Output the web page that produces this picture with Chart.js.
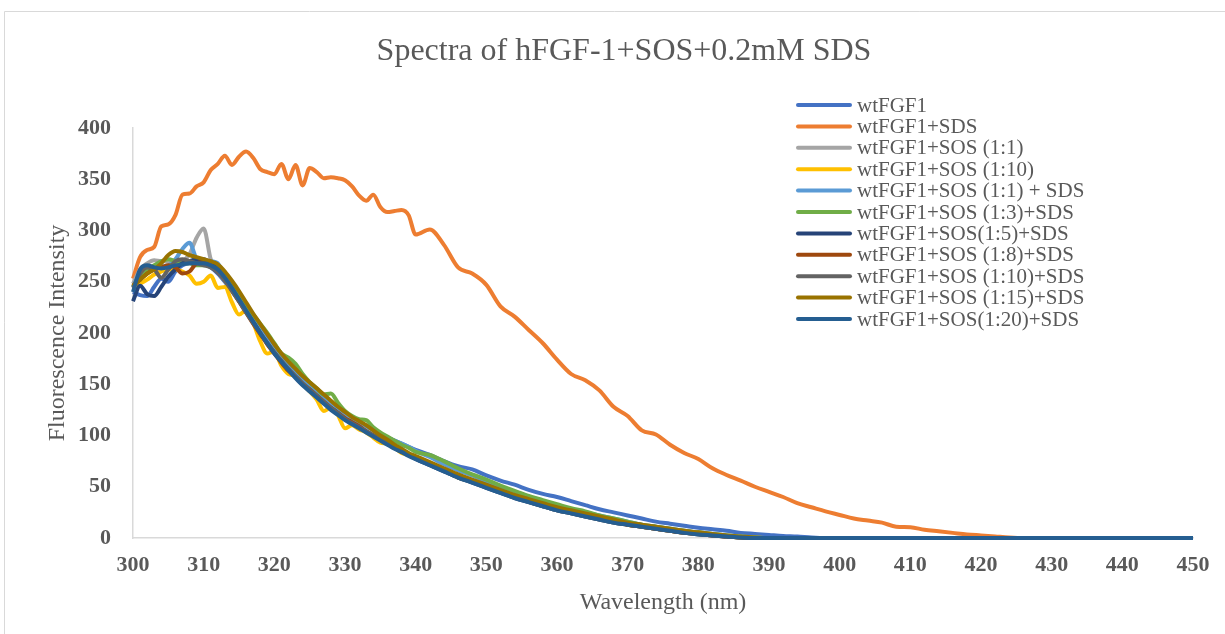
<!DOCTYPE html>
<html>
<head>
<meta charset="utf-8">
<script src="https://cdn.jsdelivr.net/npm/chart.js@4.4.1/dist/chart.umd.min.js"></script>
<style>
  html, body { margin: 0; padding: 0; background: #fff; }
  #wrap { width: 1225px; height: 634px; }
</style>
</head>
<body>
<div id="wrap"><canvas id="spectra" width="1225" height="634"></canvas></div>
<script>
// wavelength (nm): 1 nm steps to 340, 2 nm steps to 430, then the flat tail
const wavelengths = [
  300, 301, 302, 303, 304, 305, 306, 307, 308, 309,
  310, 311, 312, 313, 314, 315, 316, 317, 318, 319,
  320, 321, 322, 323, 324, 325, 326, 327, 328, 329,
  330, 331, 332, 333, 334, 335, 336, 337, 338, 339,
  340,
  342, 344, 346, 348, 350, 352, 354, 356, 358, 360,
  362, 364, 366, 368, 370, 372, 374, 376, 378, 380,
  382, 384, 386, 388, 390, 392, 394, 396, 398, 400,
  402, 404, 406, 408, 410, 412, 414, 416, 418, 420,
  422, 424, 426, 428, 430,
  440, 450
];

// fluorescence intensity, one array per sample
const wtFGF1 = [
  240, 237, 236, 245, 253, 250, 260, 266, 268, 268,
  267, 264, 258, 250, 241, 231, 222, 213, 203, 194,
  185, 177, 169, 162, 155, 149, 143, 137, 131, 126,
  120, 116, 112, 109, 105, 101, 98, 95, 92, 89,
  86,
  81, 75, 70, 67, 61, 56, 52, 47, 43, 40,
  36, 32, 28, 25, 22, 19, 16, 14, 12, 10,
  8.5, 7, 5, 4, 3, 2, 1.5, 0.5, 0, 0,
  0, 0, 0, 0, 0, 0, 0, 0, 0, 0,
  0, 0, 0, 0, 0,
  0, 0
];
const wtFGF1_SDS = [
  253, 274, 281, 284, 304, 306, 315, 335, 336, 343,
  347, 359, 365, 373, 364, 372, 377, 371, 360, 357,
  355, 365, 350, 364, 344, 361, 357, 351, 352, 351,
  349, 343, 334, 329, 335, 323, 318, 319, 320, 315,
  296,
  301, 286, 264, 258, 247, 226, 216, 203, 190, 174,
  160, 154, 144, 128, 119, 105, 101, 91, 83, 77,
  68, 61.5, 56, 50, 45, 40, 34, 30, 26, 22.5,
  19, 17, 15, 11, 10.5, 8, 6.5, 5, 3.5, 2.5,
  1.5, 0.5, 0, 0, 0,
  0, 0
];
const sos_1_1 = [
  248, 262, 268, 271, 270, 270, 269, 270, 277, 293,
  302, 272, 260, 251, 242, 232, 221, 211, 201, 191,
  182, 174, 166, 159, 152, 146, 140, 134, 128, 123,
  117, 113, 109, 105, 101, 97, 93, 89, 86, 82,
  79,
  73, 67, 61, 56, 51, 46, 41, 37, 33, 29,
  26, 23, 20, 17, 14, 12, 10, 8, 6, 5,
  3.5, 2, 1, 0.5, 0, 0, 0, 0, 0, 0,
  0, 0, 0, 0, 0, 0, 0, 0, 0, 0,
  0, 0, 0, 0, 0,
  0, 0
];
const sos_1_10 = [
  243, 248, 252, 257, 260, 262, 262, 260, 256, 248,
  250, 256, 244, 245, 230, 218, 222, 210, 192, 180,
  182, 168, 160, 158, 150, 143, 135, 124, 127, 120,
  107, 110, 106, 103, 98, 93, 92, 88, 83, 81,
  78,
  72, 66, 59, 55, 50, 45, 40, 36, 32, 28,
  25, 22, 19, 16, 13, 11, 9, 7, 5, 4,
  3, 1.5, 0.5, 0, 0, 0, 0, 0, 0, 0,
  0, 0, 0, 0, 0, 0, 0, 0, 0, 0,
  0, 0, 0, 0, 0,
  0, 0
];
const sos_1_1_SDS = [
  245, 258, 262, 264, 265, 266, 272, 282, 288, 272,
  268, 270, 268, 254, 243, 233, 222, 212, 202, 192,
  183, 175, 167, 160, 153, 148, 142, 136, 131, 126,
  120, 116, 113, 109, 105, 101, 98, 95, 92, 89,
  85,
  79, 72, 66, 61, 55, 50, 45, 40, 36, 32,
  28, 25, 22, 19, 16, 13, 11, 9, 7, 5.5,
  4, 2.5, 1.5, 0.5, 0, 0, 0, 0, 0, 0,
  0, 0, 0, 0, 0, 0, 0, 0, 0, 0,
  0, 0, 0, 0, 0,
  0, 0
];
const sos_1_3_SDS = [
  245, 256, 262, 266, 270, 272, 270, 268, 268, 266,
  266, 268, 265, 257, 247, 237, 227, 218, 209, 200,
  190, 180, 176, 170, 160, 152, 146, 140, 141, 132,
  124, 119, 116, 115, 108, 103, 99, 95, 91, 88,
  84,
  81, 75, 68, 62, 57, 51, 46, 41, 37, 33,
  29, 26, 22, 19, 16, 13, 11, 9, 7, 5.5,
  4, 2.5, 1.5, 0.5, 0, 0, 0, 0, 0, 0,
  0, 0, 0, 0, 0, 0, 0, 0, 0, 0,
  0, 0, 0, 0, 0,
  0, 0
];
const sos_1_5_SDS = [
  231, 246, 238, 236, 245, 255, 262, 268, 270, 272,
  272, 268, 262, 253, 243, 232, 221, 211, 200, 190,
  181, 172, 164, 157, 150, 144, 138, 132, 127, 122,
  116, 112, 108, 104, 100, 96, 92, 88, 84, 81,
  77,
  71, 65, 59, 54, 49, 44, 39, 35, 31, 27,
  24, 21, 18, 15, 13, 11, 9, 7, 5, 4,
  2.5, 1.5, 0.5, 0, 0, 0, 0, 0, 0, 0,
  0, 0, 0, 0, 0, 0, 0, 0, 0, 0,
  0, 0, 0, 0, 0,
  0, 0
];
const sos_1_8_SDS = [
  246, 252, 258, 262, 264, 266, 264, 258, 260, 268,
  269, 266, 260, 252, 242, 231, 220, 209, 199, 189,
  180, 171, 163, 157, 150, 145, 139, 133, 127, 122,
  117, 113, 109, 104, 100, 96, 92, 88, 85, 81,
  78,
  72, 66, 60, 55, 50, 45, 40, 36, 32, 28,
  25, 22, 19, 16, 13, 11, 9, 7, 5, 4,
  2.5, 1.5, 0.5, 0, 0, 0, 0, 0, 0, 0,
  0, 0, 0, 0, 0, 0, 0, 0, 0, 0,
  0, 0, 0, 0, 0,
  0, 0
];
const sos_1_10_SDS = [
  244, 258, 264, 262, 254, 262, 270, 272, 270, 268,
  266, 264, 259, 251, 241, 231, 220, 210, 200, 190,
  181, 173, 165, 158, 151, 145, 139, 133, 127, 122,
  116, 112, 108, 104, 100, 96, 92, 88, 85, 81,
  78,
  72, 66, 60, 55, 50, 45, 40, 35, 31, 27,
  24, 21, 18, 15, 13, 11, 9, 7, 5, 3.5,
  2.5, 1.5, 0.5, 0, 0, 0, 0, 0, 0, 0,
  0, 0, 0, 0, 0, 0, 0, 0, 0, 0,
  0, 0, 0, 0, 0,
  0, 0
];
const sos_1_15_SDS = [
  246, 252, 258, 262, 268, 276, 280, 279, 276, 274,
  272, 270, 267, 260, 251, 241, 230, 219, 209, 199,
  189, 180, 172, 165, 158, 152, 146, 140, 134, 128,
  123, 118, 114, 110, 105, 100, 96, 91, 87, 83,
  80,
  74, 68, 62, 57, 52, 47, 42, 38, 34, 30,
  27, 24, 21, 18, 15, 13, 11, 9, 7, 5.5,
  4, 2.5, 1.5, 0.5, 0, 0, 0, 0, 0, 0,
  0, 0, 0, 0, 0, 0, 0, 0, 0, 0,
  0, 0, 0, 0, 0,
  0, 0
];
const sos_1_20_SDS = [
  240, 262, 266, 264, 263, 264, 266, 267, 268, 268,
  268, 266, 262, 254, 244, 233, 222, 211, 200, 190,
  180, 172, 164, 156, 149, 143, 137, 131, 125, 120,
  115, 111, 107, 103, 99, 95, 91, 87, 84, 80,
  77,
  71, 65, 59, 54, 49, 44, 39, 35, 31, 27,
  24, 21, 18, 15, 13, 11, 9, 7, 5, 3.5,
  2.5, 1.5, 0.5, 0, 0, 0, 0, 0, 0, 0,
  0, 0, 0, 0, 0, 0, 0, 0, 0, 0,
  0, 0, 0, 0, 0,
  0, 0
];

const seriesNames = [
  'wtFGF1', 'wtFGF1+SDS', 'wtFGF1+SOS (1:1)', 'wtFGF1+SOS (1:10)',
  'wtFGF1+SOS (1:1) + SDS', 'wtFGF1+SOS (1:3)+SDS', 'wtFGF1+SOS(1:5)+SDS',
  'wtFGF1+SOS (1:8)+SDS', 'wtFGF1+SOS (1:10)+SDS', 'wtFGF1+SOS (1:15)+SDS',
  'wtFGF1+SOS(1:20)+SDS'
];
const seriesValues = [
  wtFGF1, wtFGF1_SDS, sos_1_1, sos_1_10, sos_1_1_SDS, sos_1_3_SDS,
  sos_1_5_SDS, sos_1_8_SDS, sos_1_10_SDS, sos_1_15_SDS, sos_1_20_SDS
];
const seriesColors = [
  '#4472C4', '#ED7D31', '#A5A5A5', '#FFC000', '#5B9BD5', '#70AD47',
  '#264478', '#9E480E', '#636363', '#997300', '#255E91'
];

const SERIF = '"Liberation Serif", "Times New Roman", serif';
const TEXT_GREY = '#595959';

// title, frame and the legend (which sits inside the plot, like Excel's)
const decorPlugin = {
  id: 'decorPlugin',
  beforeDraw(chart) {
    const { ctx } = chart;
    ctx.save();
    ctx.fillStyle = '#fff';
    ctx.fillRect(0, 0, chart.width, chart.height);
    ctx.strokeStyle = '#D9D9D9';
    ctx.lineWidth = 1;
    ctx.beginPath();
    ctx.moveTo(4.5, chart.height);
    ctx.lineTo(4.5, 11.5);
    ctx.lineTo(chart.width, 11.5);
    ctx.stroke();
    ctx.restore();
  },
  afterDraw(chart) {
    const { ctx } = chart;
    ctx.save();
    ctx.fillStyle = TEXT_GREY;
    ctx.textAlign = 'center';
    ctx.textBaseline = 'middle';
    ctx.font = '32px ' + SERIF;
    ctx.fillText('Spectra of hFGF-1+SOS+0.2mM SDS', 624, 52);

    // legend
    ctx.font = '21px ' + SERIF;
    ctx.textAlign = 'left';
    ctx.lineWidth = 4;
    ctx.lineCap = 'round';
    seriesNames.forEach((name, i) => {
      const y = 105 + i * 21.4;
      ctx.strokeStyle = seriesColors[i];
      ctx.beginPath();
      ctx.moveTo(798, y);
      ctx.lineTo(850, y);
      ctx.stroke();
      ctx.fillStyle = TEXT_GREY;
      ctx.fillText(name, 857, y + 1);
    });
    ctx.restore();
  }
};

// later series are drawn on top in the original, so feed them in reverse
const datasets = seriesNames.map((name, i) => ({
  label: name,
  data: wavelengths.map((w, j) => ({ x: w, y: seriesValues[i][j] })),
  borderColor: seriesColors[i],
  backgroundColor: seriesColors[i],
  borderWidth: 4,
  pointRadius: 0,
  cubicInterpolationMode: 'monotone',
  clip: false
})).reverse();

new Chart(document.getElementById('spectra'), {
  type: 'line',
  data: { datasets },
  options: {
    responsive: false,
    animation: false,
    layout: { padding: { top: 128, right: 32, bottom: 0, left: 0 } },
    plugins: {
      legend: { display: false },
      title: { display: false },
      tooltip: { enabled: false }
    },
    scales: {
      x: {
        type: 'linear',
        min: 300,
        max: 450,
        grid: { display: false, drawTicks: false },
        border: { display: true, color: '#D9D9D9', width: 1.5 },
        ticks: {
          stepSize: 10,
          padding: 14,
          color: TEXT_GREY,
          font: { family: SERIF, size: 22, weight: 'bold' }
        },
        title: {
          display: true,
          text: 'Wavelength (nm)',
          color: TEXT_GREY,
          font: { family: SERIF, size: 24 },
          padding: { top: 0, bottom: 17 }
        },
        afterFit(scale) { scale.height = 96; }
      },
      y: {
        min: 0,
        max: 400,
        grid: { display: false, drawTicks: false },
        border: { display: true, color: '#D9D9D9', width: 1.5 },
        ticks: {
          stepSize: 50,
          padding: 22,
          color: TEXT_GREY,
          font: { family: SERIF, size: 22, weight: 'bold' }
        },
        title: {
          display: true,
          text: 'Fluorescence Intensity',
          color: TEXT_GREY,
          font: { family: SERIF, size: 24 },
          padding: { top: 43, bottom: 0 }
        },
        afterFit(scale) { scale.width = 133; }
      }
    }
  },
  plugins: [decorPlugin]
});
</script>
</body>
</html>
